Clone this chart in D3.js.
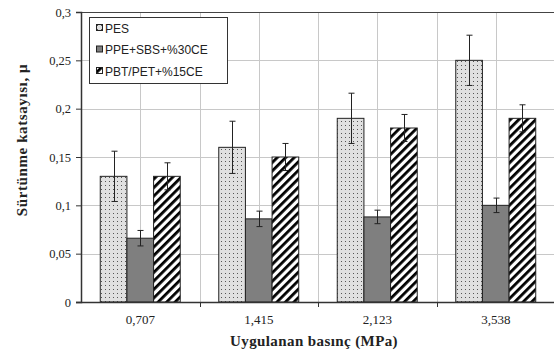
<!DOCTYPE html>
<html>
<head>
<meta charset="utf-8">
<script src="https://cdn.jsdelivr.net/npm/d3@7"></script>
<style>
body { margin: 0; background: #fff; }
svg { display: block; }
</style>
</head>
<body>
<svg id="chart" width="554" height="356"></svg>
<script>
// basınç kategorileri
var categories = ['0,707', '1,415', '2,123', '3,538'];
var seriesNames = ['PES', 'PPE+SBS+%30CE', 'PBT/PET+%15CE'];
var pesValues = [0.13, 0.16, 0.19, 0.25];
var ppeValues = [0.066, 0.086, 0.088, 0.1];
var pbtValues = [0.13, 0.15, 0.18, 0.19];
var pesErrors = [0.026, 0.027, 0.026, 0.026];
var ppeErrors = [0.008, 0.008, 0.007, 0.0075];
var pbtErrors = [0.014, 0.014, 0.014, 0.014];
var yTicks = [0, 0.05, 0.1, 0.15, 0.2, 0.25, 0.3];

var series = [
    {name: seriesNames[0], values: pesValues, errors: pesErrors, fill: 'url(#dots)'},
    {name: seriesNames[1], values: ppeValues, errors: ppeErrors, fill: '#7f7f7f'},
    {name: seriesNames[2], values: pbtValues, errors: pbtErrors, fill: 'url(#stripes)'}
];

var svg = d3.select('#chart');
var PL = 81, PR = 555, PT = 12, PB = 302;

var defs = svg.append('defs');
var dots = defs.append('pattern').attr('id', 'dots').attr('patternUnits', 'userSpaceOnUse')
    .attr('width', 4).attr('height', 4);
dots.append('rect').attr('width', 4).attr('height', 4).attr('fill', '#e0e0e0');
dots.append('rect').attr('x', 1).attr('y', 1).attr('width', 1).attr('height', 1).attr('fill', '#555');
var stripes = defs.append('pattern').attr('id', 'stripes').attr('patternUnits', 'userSpaceOnUse')
    .attr('width', 6).attr('height', 6).attr('patternTransform', 'rotate(45)');
stripes.append('rect').attr('width', 6).attr('height', 6).attr('fill', '#fff');
stripes.append('rect').attr('width', 2.8).attr('height', 6).attr('fill', '#000');

var x0 = d3.scaleBand().domain(categories).range([PL, PR]).paddingInner(0.325).paddingOuter(0.1625);
var x1 = d3.scaleBand().domain(seriesNames).range([0, x0.bandwidth()]);
var y = d3.scaleLinear().domain([0, 0.3]).range([PB, PT]);
var step = (PR - PL) / categories.length;

// ızgara
svg.append('g').selectAll('line.h').data(yTicks).enter().append('line')
    .attr('x1', PL).attr('x2', PR)
    .attr('y1', d => Math.round(y(d)) + 0.5).attr('y2', d => Math.round(y(d)) + 0.5)
    .attr('stroke', '#c8c8c8');
var vgrid = [];
for (var i = 1; i < categories.length * 2; i++) vgrid.push(PL + i * step / 2);
svg.append('g').selectAll('line.v').data(vgrid).enter().append('line')
    .attr('x1', d => Math.round(d) + 0.5).attr('x2', d => Math.round(d) + 0.5)
    .attr('y1', PT).attr('y2', PB)
    .attr('stroke', '#c8c8c8');
svg.append('line').attr('x1', PL).attr('x2', PR).attr('y1', PT + 0.5).attr('y2', PT + 0.5)
    .attr('stroke', '#444');

// çubuklar
var groups = svg.append('g').selectAll('g').data(series).enter().append('g');
groups.selectAll('rect').data(s => s.values.map((v, i) => ({v: v, e: s.errors[i], c: categories[i], s: s})))
    .enter().append('rect')
    .attr('x', d => x0(d.c) + x1(d.s.name))
    .attr('y', d => y(d.v))
    .attr('width', x1.bandwidth())
    .attr('height', d => PB - y(d.v))
    .attr('fill', d => d.s.fill)
    .attr('stroke', '#222').attr('stroke-width', 1);

// hata çubukları
var err = svg.append('g').attr('stroke', '#222').attr('stroke-width', 1);
series.forEach(function (s) {
    s.values.forEach(function (v, i) {
        var cx = Math.round(x0(categories[i]) + x1(s.name) + x1.bandwidth() / 2) + 0.5;
        var e = s.errors[i];
        err.append('line').attr('x1', cx).attr('x2', cx).attr('y1', y(v + e)).attr('y2', y(v - e));
        err.append('line').attr('x1', cx - 3).attr('x2', cx + 3).attr('y1', y(v + e)).attr('y2', y(v + e));
        err.append('line').attr('x1', cx - 3).attr('x2', cx + 3).attr('y1', y(v - e)).attr('y2', y(v - e));
    });
});

// eksenler
var yAxis = svg.append('g').attr('transform', 'translate(' + PL + ',0)')
    .call(d3.axisLeft(y).tickValues(yTicks).tickSize(5).tickPadding(5)
        .tickFormat(d => d3.format('~g')(d).replace('.', ',')));
yAxis.select('.domain').attr('stroke', '#333').attr('stroke-width', 1.5);
yAxis.selectAll('.tick line').attr('stroke', '#333');
yAxis.selectAll('text').attr('font-family', 'Liberation Serif').attr('font-size', 12.5).attr('fill', '#222');

svg.append('line').attr('x1', PL - 5).attr('x2', PR).attr('y1', PB + 0.5).attr('y2', PB + 0.5)
    .attr('stroke', '#333').attr('stroke-width', 1.5);
var boundaries = [];
for (var j = 1; j < categories.length; j++) boundaries.push(PL + j * step);
svg.append('g').selectAll('line').data(boundaries).enter().append('line')
    .attr('x1', d => Math.round(d) + 0.5).attr('x2', d => Math.round(d) + 0.5)
    .attr('y1', PB).attr('y2', PB + 5).attr('stroke', '#333');
svg.append('g').selectAll('text').data(categories).enter().append('text')
    .attr('x', d => x0(d) + x0.bandwidth() / 2).attr('y', 324)
    .attr('text-anchor', 'middle')
    .attr('font-family', 'Liberation Serif').attr('font-size', 13).attr('fill', '#222')
    .text(d => d);

svg.append('text').attr('x', 314).attr('y', 346).attr('text-anchor', 'middle')
    .attr('font-family', 'Liberation Serif').attr('font-size', 15).attr('font-weight', 'bold')
    .attr('letter-spacing', 0.4).attr('fill', '#222')
    .text('Uygulanan  basınç (MPa)');
svg.append('text').attr('transform', 'translate(27,140) rotate(-90)').attr('text-anchor', 'middle')
    .attr('font-family', 'Liberation Serif').attr('font-size', 15).attr('font-weight', 'bold')
    .attr('letter-spacing', 0.6).attr('fill', '#222')
    .text('Sürtünme  katsayısı, μ');

// lejant
var legend = svg.append('g').attr('transform', 'translate(89,17)');
legend.append('rect').attr('x', 0.5).attr('y', 0.5).attr('width', 138).attr('height', 66)
    .attr('fill', '#fff').attr('stroke', '#333');
var items = legend.selectAll('g').data(series).enter().append('g')
    .attr('transform', (d, i) => 'translate(7,' + (11 + i * 21.5) + ')');
items.append('rect').attr('x', 0.5).attr('y', -3.5).attr('width', 6).attr('height', 6)
    .attr('fill', d => d.fill).attr('stroke', '#222');
items.append('text').attr('x', 9).attr('y', 4.5)
    .attr('font-family', 'Liberation Sans').attr('font-size', 12).attr('fill', '#222')
    .text(d => d.name);
</script>
</body>
</html>
